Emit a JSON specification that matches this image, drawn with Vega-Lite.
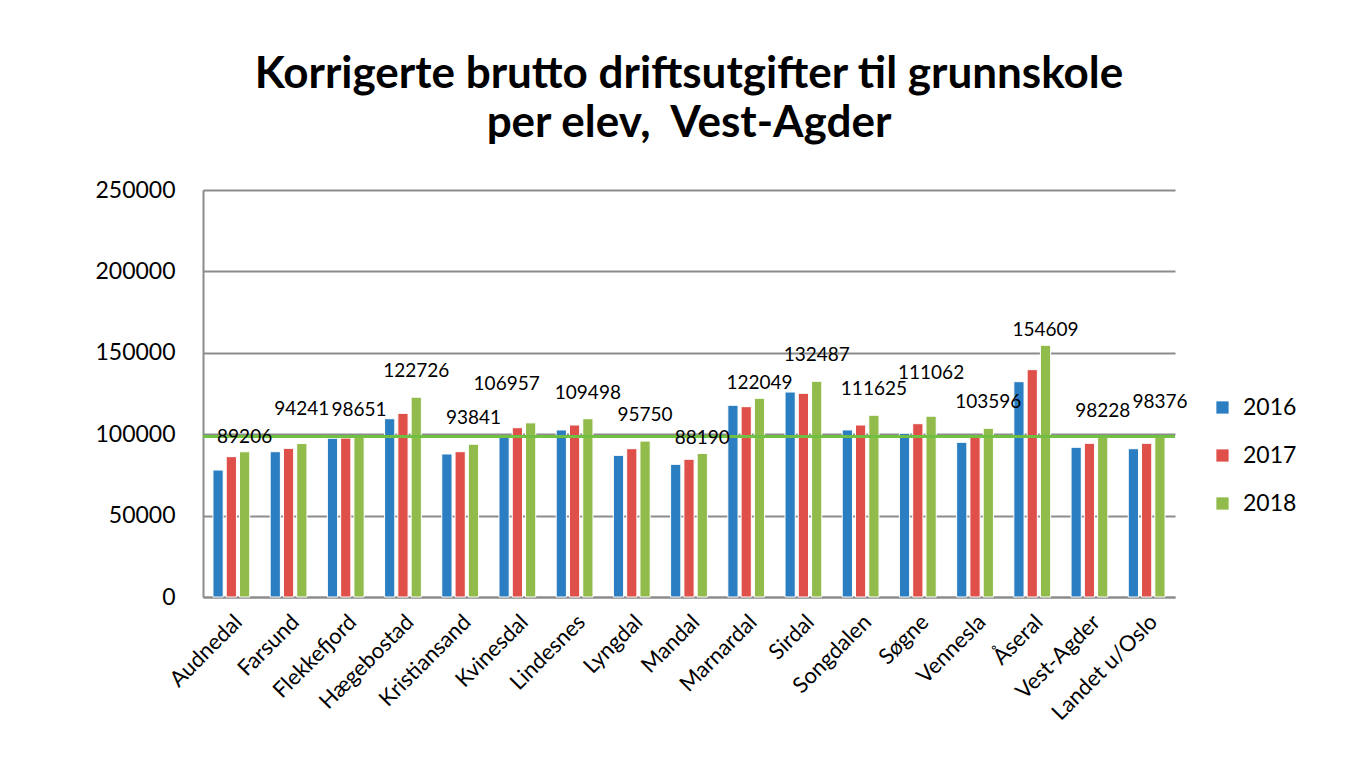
{
  "$schema": "https://vega.github.io/schema/vega-lite/v6.json",
  "width": 972,
  "height": 407,
  "autosize": {"type": "none"},
  "padding": {"left": 203, "top": 190, "right": 182, "bottom": 161},
  "background": "white",
  "config": {"font": "Lato", "view": {"stroke": null}},
  "title": {
    "text": ["Korrigerte brutto driftsutgifter til grunnskole", "per elev,\u00a0 Vest-Agder"],
    "font": "Lato",
    "fontSize": 44,
    "fontWeight": "bold",
    "color": "black",
    "anchor": "middle",
    "offset": 33,
    "lineHeight": 49
  },
  "data": {
    "values": [
      {"kommune": "Audnedal", "year": "2016", "value": 78000},
      {"kommune": "Audnedal", "year": "2017", "value": 86200},
      {"kommune": "Audnedal", "year": "2018", "value": 89206},
      {"kommune": "Farsund", "year": "2016", "value": 89250},
      {"kommune": "Farsund", "year": "2017", "value": 91300},
      {"kommune": "Farsund", "year": "2018", "value": 94241},
      {"kommune": "Flekkefjord", "year": "2016", "value": 97500},
      {"kommune": "Flekkefjord", "year": "2017", "value": 97600},
      {"kommune": "Flekkefjord", "year": "2018", "value": 98651},
      {"kommune": "Hægebostad", "year": "2016", "value": 109500},
      {"kommune": "Hægebostad", "year": "2017", "value": 112800},
      {"kommune": "Hægebostad", "year": "2018", "value": 122726},
      {"kommune": "Kristiansand", "year": "2016", "value": 87850},
      {"kommune": "Kristiansand", "year": "2017", "value": 89250},
      {"kommune": "Kristiansand", "year": "2018", "value": 93841},
      {"kommune": "Kvinesdal", "year": "2016", "value": 98500},
      {"kommune": "Kvinesdal", "year": "2017", "value": 104000},
      {"kommune": "Kvinesdal", "year": "2018", "value": 106957},
      {"kommune": "Lindesnes", "year": "2016", "value": 102600},
      {"kommune": "Lindesnes", "year": "2017", "value": 105650},
      {"kommune": "Lindesnes", "year": "2018", "value": 109498},
      {"kommune": "Lyngdal", "year": "2016", "value": 87000},
      {"kommune": "Lyngdal", "year": "2017", "value": 91100},
      {"kommune": "Lyngdal", "year": "2018", "value": 95750},
      {"kommune": "Mandal", "year": "2016", "value": 81500},
      {"kommune": "Mandal", "year": "2017", "value": 84600},
      {"kommune": "Mandal", "year": "2018", "value": 88190},
      {"kommune": "Marnardal", "year": "2016", "value": 117750},
      {"kommune": "Marnardal", "year": "2017", "value": 116900},
      {"kommune": "Marnardal", "year": "2018", "value": 122049},
      {"kommune": "Sirdal", "year": "2016", "value": 125900},
      {"kommune": "Sirdal", "year": "2017", "value": 125100},
      {"kommune": "Sirdal", "year": "2018", "value": 132487},
      {"kommune": "Songdalen", "year": "2016", "value": 102600},
      {"kommune": "Songdalen", "year": "2017", "value": 105650},
      {"kommune": "Songdalen", "year": "2018", "value": 111625},
      {"kommune": "Søgne", "year": "2016", "value": 100550},
      {"kommune": "Søgne", "year": "2017", "value": 106450},
      {"kommune": "Søgne", "year": "2018", "value": 111062},
      {"kommune": "Vennesla", "year": "2016", "value": 95000},
      {"kommune": "Vennesla", "year": "2017", "value": 98500},
      {"kommune": "Vennesla", "year": "2018", "value": 103596},
      {"kommune": "Åseral", "year": "2016", "value": 132250},
      {"kommune": "Åseral", "year": "2017", "value": 139650},
      {"kommune": "Åseral", "year": "2018", "value": 154609},
      {"kommune": "Vest-Agder", "year": "2016", "value": 91950},
      {"kommune": "Vest-Agder", "year": "2017", "value": 94400},
      {"kommune": "Vest-Agder", "year": "2018", "value": 98228},
      {"kommune": "Landet u/Oslo", "year": "2016", "value": 91100},
      {"kommune": "Landet u/Oslo", "year": "2017", "value": 94400},
      {"kommune": "Landet u/Oslo", "year": "2018", "value": 98376}
    ]
  },
  "encoding": {
    "x": {
      "field": "kommune",
      "type": "nominal",
      "sort": null,
      "title": null,
      "scale": {"paddingInner": 0.357, "paddingOuter": 0.174},
      "axis": {
        "labelAngle": -45,
        "labelFontSize": 22,
        "labelColor": "black",
        "labelFont": "Lato",
        "labelPadding": 14,
        "ticks": false,
        "domainColor": "#8c8c8c",
        "domainWidth": 2,
        "grid": false
      }
    },
    "xOffset": {"field": "year", "type": "nominal", "scale": {"paddingInner": 0.23, "paddingOuter": 0}},
    "y": {
      "field": "value",
      "type": "quantitative",
      "title": null,
      "scale": {"domain": [0, 250000], "nice": false},
      "axis": {
        "values": [0, 50000, 100000, 150000, 200000, 250000],
        "format": "d",
        "labelFontSize": 23,
        "labelColor": "black",
        "labelFont": "Lato",
        "labelPadding": 28,
        "ticks": false,
        "domainColor": "#8c8c8c",
        "domainWidth": 2,
        "gridColor": "#8c8c8c",
        "gridWidth": 2
      }
    }
  },
  "layer": [
    {
      "mark": {"type": "bar", "stroke": "white", "strokeWidth": 1},
      "encoding": {
        "color": {
          "field": "year",
          "type": "nominal",
          "title": null,
          "scale": {"domain": ["2016", "2017", "2018"], "range": ["#2B7EC1", "#E0504A", "#91BB4B"]},
          "legend": {
            "orient": "none",
            "legendX": 1008,
            "legendY": 206,
            "symbolType": "square",
            "symbolSize": 150,
            "symbolStrokeWidth": 0,
            "labelFontSize": 23,
            "labelFont": "Lato",
            "labelColor": "black",
            "labelOffset": 9,
            "rowPadding": 24
          }
        }
      }
    },
    {
      "mark": {"type": "rule", "color": "#72C043", "strokeWidth": 2},
      "encoding": {"x": null, "xOffset": null, "y": {"datum": 98376}}
    },
    {
      "transform": [{"filter": "datum.year == '2018' && indexof(['Audnedal', 'Mandal', 'Marnardal', 'Åseral'], datum.kommune) >= 0"}],
      "mark": {"type": "text", "baseline": "bottom", "dy": -5, "fontSize": 19, "font": "Lato", "color": "black"},
      "encoding": {"text": {"field": "value", "type": "quantitative", "format": "d"}}
    },
    {
      "transform": [{"filter": "datum.year == '2018' && indexof(['Flekkefjord', 'Hægebostad', 'Kristiansand', 'Lindesnes', 'Lyngdal', 'Sirdal', 'Songdalen', 'Vennesla', 'Vest-Agder'], datum.kommune) >= 0"}],
      "mark": {"type": "text", "baseline": "bottom", "dy": -16, "fontSize": 19, "font": "Lato", "color": "black"},
      "encoding": {"text": {"field": "value", "type": "quantitative", "format": "d"}}
    },
    {
      "transform": [{"filter": "datum.year == '2018' && indexof(['Farsund', 'Landet u/Oslo'], datum.kommune) >= 0"}],
      "mark": {"type": "text", "baseline": "bottom", "dy": -25, "fontSize": 19, "font": "Lato", "color": "black"},
      "encoding": {"text": {"field": "value", "type": "quantitative", "format": "d"}}
    },
    {
      "transform": [{"filter": "datum.year == '2018' && datum.kommune == 'Kvinesdal'"}],
      "mark": {"type": "text", "baseline": "bottom", "dy": -29, "dx": -24, "fontSize": 19, "font": "Lato", "color": "black"},
      "encoding": {"text": {"field": "value", "type": "quantitative", "format": "d"}}
    },
    {
      "transform": [{"filter": "datum.year == '2018' && datum.kommune == 'Søgne'"}],
      "mark": {"type": "text", "baseline": "bottom", "dy": -33, "fontSize": 19, "font": "Lato", "color": "black"},
      "encoding": {"text": {"field": "value", "type": "quantitative", "format": "d"}}
    }
  ]
}
